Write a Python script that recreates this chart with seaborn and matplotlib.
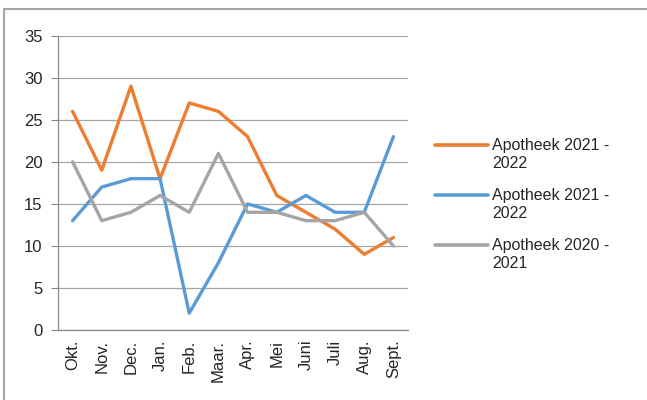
import numpy as np
import pandas as pd
import seaborn as sns
import matplotlib.pyplot as plt
from matplotlib.lines import Line2D

maanden = ['Okt.', 'Nov.', 'Dec.', 'Jan.', 'Feb.', 'Maar.', 'Apr.', 'Mei', 'Juni', 'Juli', 'Aug.', 'Sept.']
oranje = [26, 19, 29, 18, 27, 26, 23, 16, 14, 12, 9, 11]
blauw = [13, 17, 18, 18, 2, 8, 15, 14, 16, 14, 14, 23]
grijs = [20, 13, 14, 16, 14, 21, 14, 14, 13, 13, 14, 10]
labels = [('Apotheek 2021 -', '2022'), ('Apotheek 2021 -', '2022'), ('Apotheek 2020 -', '2021')]
kleuren = ['#ED7D31', '#5B9BD5', '#A5A5A5']

sns.set_style('white')
plt.rcParams['font.family'] = ['Liberation Sans', 'DejaVu Sans']

df = pd.DataFrame({
    'maand': list(range(12)) * 3,
    'waarde': oranje + blauw + grijs,
    'serie': ['a'] * 12 + ['b'] * 12 + ['c'] * 12,
})

W, H = 647, 400
fig = plt.figure(figsize=(W / 100, H / 100), dpi=100)
ax = fig.add_axes([58 / W, 1 - 330 / H, 350 / W, (330 - 35.7) / H])

sns.lineplot(data=df, x='maand', y='waarde', hue='serie', palette=kleuren,
             linewidth=2.4, ax=ax, legend=False)

ax.set_xlim(-0.5, 11.5)
ax.set_ylim(0, 35)
ax.set_yticks(range(0, 36, 5))
ax.set_xticks(range(12))
ax.set_xticklabels(maanden, rotation=90)
ax.set_xticks(np.arange(-0.5, 12, 1), minor=True)
ax.tick_params(axis='x', which='major', length=0, labelsize=12, pad=7)
ax.tick_params(axis='x', which='minor', length=4, color='#898989', width=0.8)
ax.tick_params(axis='y', length=5, color='#898989', width=0.8, labelsize=12, pad=6,
               direction='out', left=True)
ax.set_xlabel('')
ax.set_ylabel('')
ax.yaxis.grid(True, color='#A6A6A6', linewidth=0.9)
ax.set_axisbelow(True)
for s in ['top', 'right']:
    ax.spines[s].set_visible(False)
for s in ['left', 'bottom']:
    ax.spines[s].set_color('#898989')
    ax.spines[s].set_linewidth(0.9)

# legenda handmatig, lijn op hoogte van eerste tekstregel
for i, (kleur, (r1, r2)) in enumerate(zip(kleuren, labels)):
    y = 145 + 50 * i
    fig.add_artist(Line2D([435 / W, 488 / W], [1 - y / H, 1 - y / H], color=kleur,
                          linewidth=2.6, transform=fig.transFigure))
    fig.text(492 / W, 1 - y / H, r1, fontsize=11.5, va='center', ha='left')
    fig.text(492 / W, 1 - (y + 18) / H, r2, fontsize=11.5, va='center', ha='left')

# rand van het kader (alleen links en boven zichtbaar)
fig.add_artist(Line2D([4 / W, 1], [1 - 9 / H, 1 - 9 / H], color='#A6A6A6', linewidth=1.5,
                      transform=fig.transFigure))
fig.add_artist(Line2D([4 / W, 4 / W], [0, 1 - 9 / H], color='#A6A6A6', linewidth=1.5,
                      transform=fig.transFigure))

fig.savefig('out.png', dpi=100)
